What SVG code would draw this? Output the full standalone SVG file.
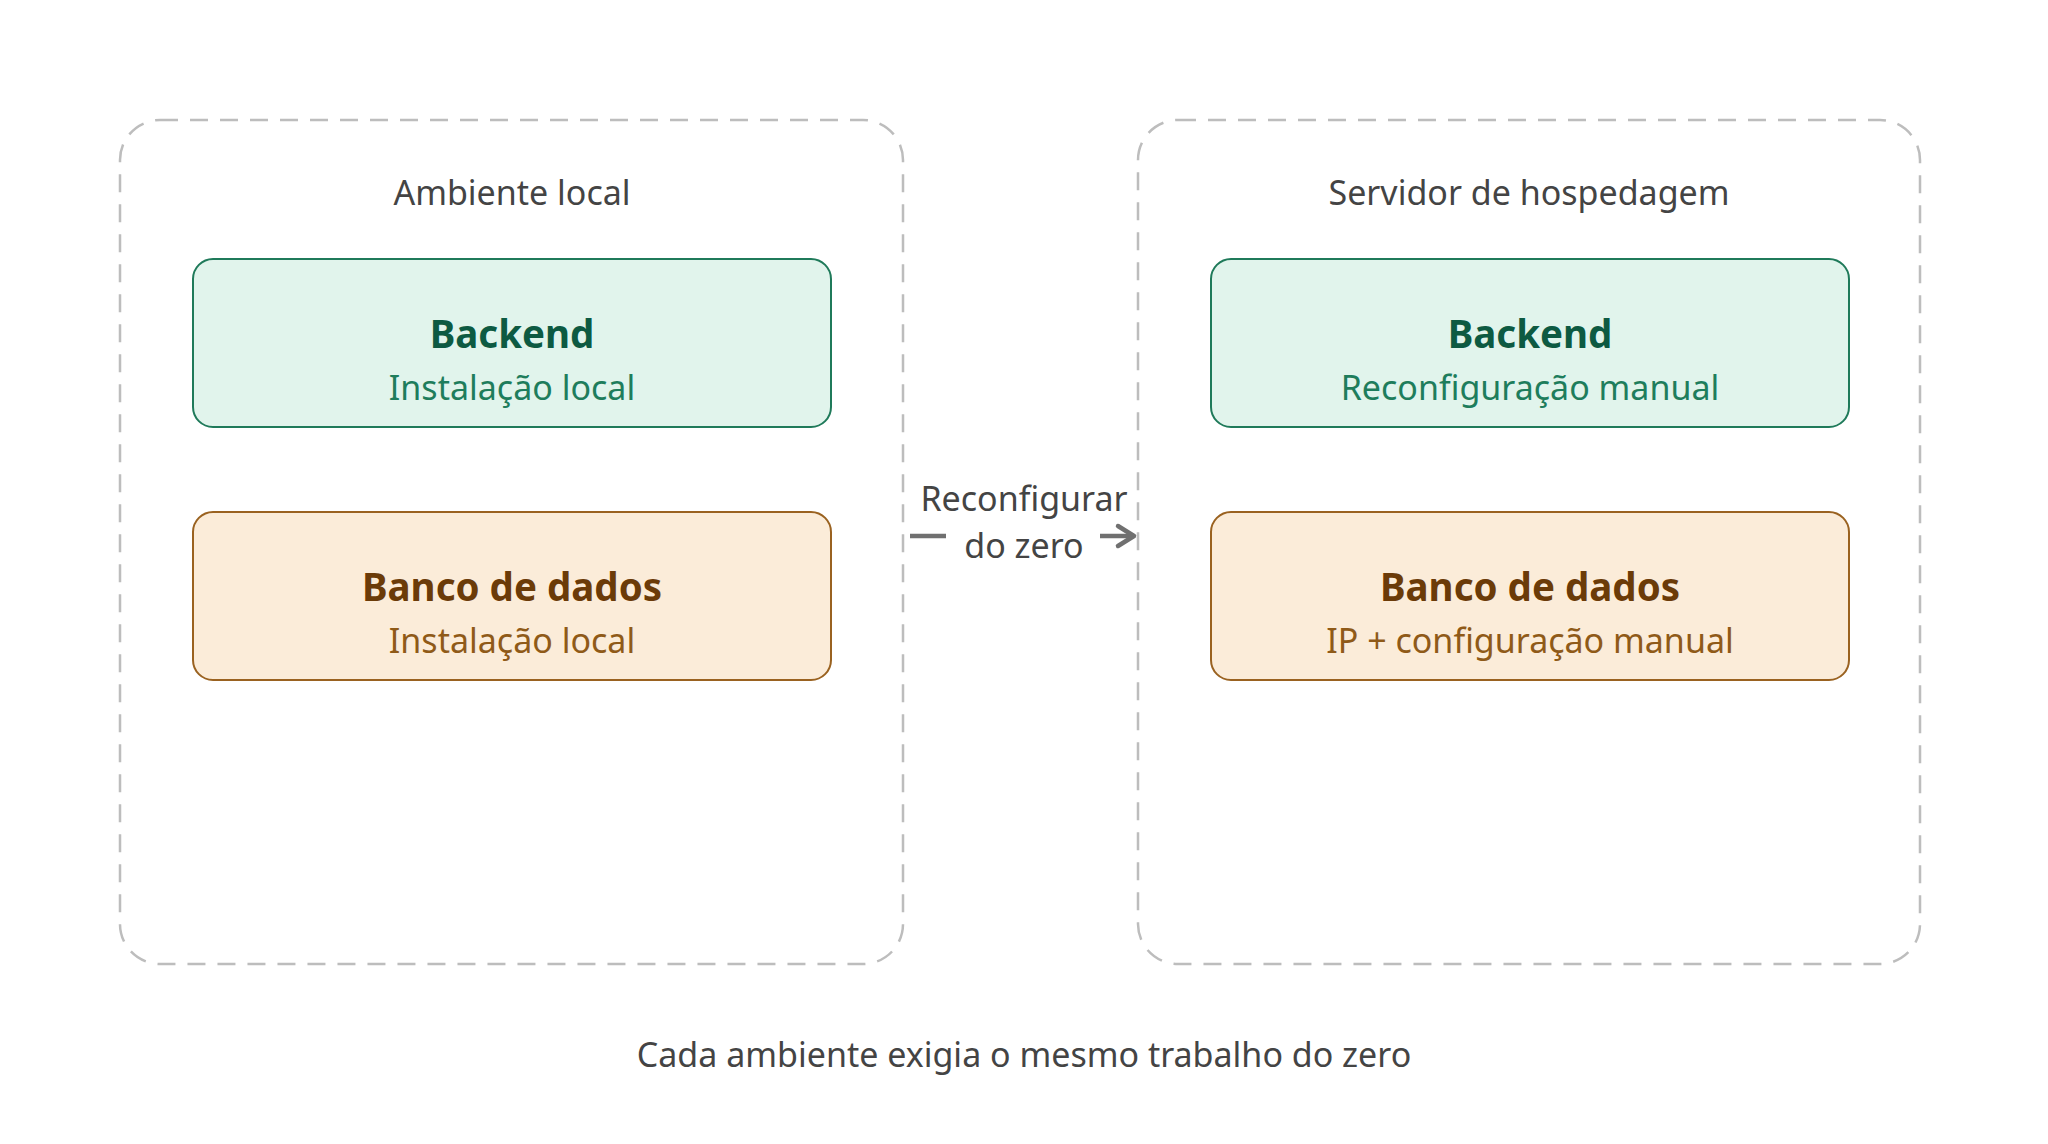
<svg xmlns="http://www.w3.org/2000/svg" width="2048" height="1144" viewBox="0 0 2048 1144">
  <defs>
    <style>
      .container { fill: none; stroke: #bdbdbd; stroke-width: 2.5; stroke-dasharray: 18 12; }
      .title { font-family: "Noto Sans", "Open Sans", sans-serif; font-size: 34px; fill: #444444; text-anchor: middle; }
      .green rect { fill: #e1f4ec; stroke: #1f7a5a; stroke-width: 2; }
      .amber rect { fill: #fbecd9; stroke: #9a6220; stroke-width: 2; }
      .head { font-family: "Noto Sans", "Open Sans", sans-serif; font-size: 38.5px; font-weight: bold; text-anchor: middle; }
      .sub { font-family: "Noto Sans", "Open Sans", sans-serif; font-size: 34px; text-anchor: middle; }
      .green .head { fill: #0d5a42; }
      .green .sub { fill: #1e7d5c; }
      .amber .head { fill: #6b3b08; }
      .amber .sub { fill: #8f5a18; }
      .edge { stroke: #707070; stroke-width: 4.5; fill: none; }
      .label { font-family: "Noto Sans", "Open Sans", sans-serif; font-size: 34px; fill: #444444; text-anchor: middle; }
    </style>
    <marker id="arrow" viewBox="0 0 24 30" refX="20" refY="15" markerWidth="24" markerHeight="30" markerUnits="userSpaceOnUse" orient="auto">
      <path d="M4,5 L20,15 L4,25" fill="none" stroke="#707070" stroke-width="4.5" stroke-linecap="round" stroke-linejoin="round"/>
    </marker>
  </defs>
  <rect width="2048" height="1144" fill="#ffffff"/>

  <g id="env-local">
    <rect class="container" x="120" y="120" width="783" height="844" rx="40"/>
    <text class="title" x="512" y="205">Ambiente local</text>
  </g>
  <g id="env-server">
    <rect class="container" x="1138" y="120" width="782" height="844" rx="40"/>
    <text class="title" x="1529" y="205">Servidor de hospedagem</text>
  </g>

  <g id="local-backend" class="green">
    <rect x="193" y="259" width="638" height="168" rx="20"/>
    <text class="head" x="512" y="348">Backend</text>
    <text class="sub" x="512" y="400">Instalação local</text>
  </g>
  <g id="local-db" class="amber">
    <rect x="193" y="512" width="638" height="168" rx="20"/>
    <text class="head" x="512" y="601">Banco de dados</text>
    <text class="sub" x="512" y="653">Instalação local</text>
  </g>
  <g id="server-backend" class="green">
    <rect x="1211" y="259" width="638" height="168" rx="20"/>
    <text class="head" x="1530" y="348">Backend</text>
    <text class="sub" x="1530" y="400">Reconfiguração manual</text>
  </g>
  <g id="server-db" class="amber">
    <rect x="1211" y="512" width="638" height="168" rx="20"/>
    <text class="head" x="1530" y="601">Banco de dados</text>
    <text class="sub" x="1530" y="653">IP + configuração manual</text>
  </g>

  <g id="connectors">
    <line class="edge" x1="910" y1="536" x2="946" y2="536"/>
    <line class="edge" x1="1100" y1="536" x2="1134" y2="536" marker-end="url(#arrow)"/>
    <text class="label" x="1024" y="511">Reconfigurar</text>
    <text class="label" x="1024" y="558">do zero</text>
  </g>

  <g id="caption">
    <text class="title" x="1024" y="1067">Cada ambiente exigia o mesmo trabalho do zero</text>
  </g>
</svg>
